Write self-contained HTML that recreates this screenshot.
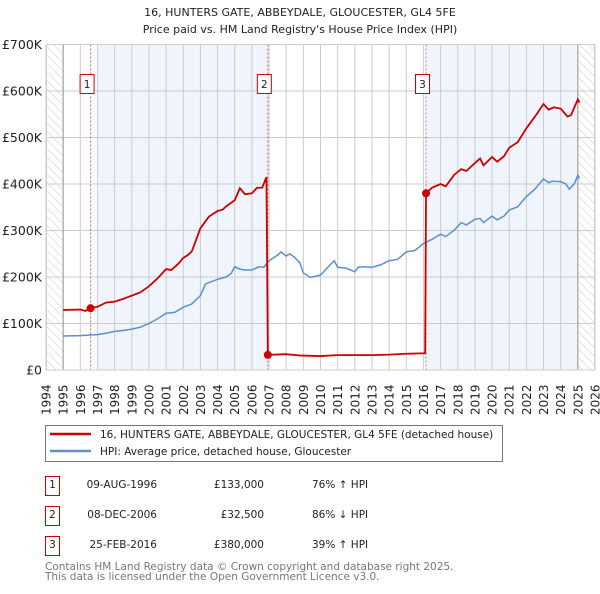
<!DOCTYPE html>
<html><head><meta charset="utf-8"><style>
body{margin:0;background:#fff;width:600px;height:590px;overflow:hidden;font-family:"DejaVu Sans","Liberation Sans",sans-serif;}
svg text{font-family:"DejaVu Sans","Liberation Sans",sans-serif;}
</style></head><body>
<svg id="c" width="600" height="590" xmlns="http://www.w3.org/2000/svg">
<defs><pattern id="hatch" width="6" height="6" patternUnits="userSpaceOnUse" patternTransform="rotate(-45)"><line x1="0" y1="0" x2="0" y2="6" stroke="#ccc" stroke-width="1"/></pattern></defs>
<text x="300" y="16" font-size="11" text-anchor="middle" fill="#222">16, HUNTERS GATE, ABBEYDALE, GLOUCESTER, GL4 5FE</text>
<text x="300" y="33" font-size="11" text-anchor="middle" fill="#222">Price paid vs. HM Land Registry's House Price Index (HPI)</text>
<g id="plot"></g>
<g>
<rect x="45.5" y="425.5" width="457" height="36" fill="#fff" stroke="#777"/>
<line x1="50" y1="434" x2="91" y2="434" stroke="#cc0000" stroke-width="2.5"/>
<text x="100" y="438" font-size="10.5" fill="#222">16, HUNTERS GATE, ABBEYDALE, GLOUCESTER, GL4 5FE (detached house)</text>
<line x1="50" y1="451" x2="91" y2="451" stroke="#5b8fd0" stroke-width="2.5"/>
<text x="100" y="455" font-size="10.5" fill="#222">HPI: Average price, detached house, Gloucester</text>
</g>
<g font-size="10.5" fill="#222">
<rect x="45.5" y="476.5" width="14" height="19" fill="#fff" stroke="#cc0000"/><text x="52.5" y="488" text-anchor="middle">1</text>
<text x="157" y="488" text-anchor="end">09-AUG-1996</text><text x="264" y="488" text-anchor="end">£133,000</text><text x="312" y="488">76% ↑ HPI</text>
<rect x="45.5" y="506.5" width="14" height="19" fill="#fff" stroke="#cc0000"/><text x="52.5" y="518" text-anchor="middle">2</text>
<text x="157" y="518" text-anchor="end">08-DEC-2006</text><text x="264" y="518" text-anchor="end">£32,500</text><text x="312" y="518">86% ↓ HPI</text>
<rect x="45.5" y="536.5" width="14" height="19" fill="#fff" stroke="#cc0000"/><text x="52.5" y="548" text-anchor="middle">3</text>
<text x="157" y="548" text-anchor="end">25-FEB-2016</text><text x="264" y="548" text-anchor="end">£380,000</text><text x="312" y="548">39% ↑ HPI</text>
</g>
<text x="45" y="570" font-size="10.5" fill="#777">Contains HM Land Registry data © Crown copyright and database right 2025.</text>
<text x="45" y="580" font-size="10.5" fill="#777">This data is licensed under the Open Government Licence v3.0.</text>
</svg>
<script>
const yTicks=[0,100,200,300,400,500,600,700];
const yTickLabels=["£0","£100K","£200K","£300K","£400K","£500K","£600K","£700K"];
const years=[1994,1995,1996,1997,1998,1999,2000,2001,2002,2003,2004,2005,2006,2007,2008,2009,2010,2011,2012,2013,2014,2015,2016,2017,2018,2019,2020,2021,2022,2023,2024,2025,2026];
const hpiT=[1995,1996,1997,1997.5,1998,1998.5,1999,1999.5,2000,2000.5,2001,2001.5,2002,2002.5,2003,2003.3,2003.5,2004,2004.5,2004.8,2005,2005.3,2005.6,2006,2006.4,2006.7,2007,2007.5,2007.7,2008,2008.2,2008.5,2008.8,2009,2009.4,2010,2010.5,2010.8,2011,2011.5,2012,2012.2,2012.5,2013,2013.5,2014,2014.5,2015,2015.5,2016,2016.5,2017,2017.3,2017.8,2018.2,2018.5,2019,2019.3,2019.5,2020,2020.3,2020.7,2021,2021.5,2022,2022.5,2023,2023.3,2023.5,2024,2024.3,2024.5,2024.8,2025,2025.1];
const hpiV=[73,74,76,79,83,85,88,92,100,110,122,124,135,142,160,185,188,195,200,208,222,217,215,215,222,221,235,247,254,245,250,242,230,209,199,204,224,235,221,219,211,221,222,221,226,235,238,254,257,272,281,292,287,301,317,312,324,326,317,331,323,331,344,351,373,389,411,403,406,405,400,389,401,419,412];
const priceT=[1995,1996,1996.3,1996.6,1997,1997.5,1998,1998.5,1999,1999.5,2000,2000.5,2001,2001.3,2001.7,2002,2002.3,2002.5,2003,2003.5,2004,2004.3,2004.5,2005,2005.3,2005.6,2006,2006.3,2006.6,2006.85,2006.93,2008,2008.9,2010,2011,2012,2013,2014,2015,2016.1,2016.15,2016.5,2017,2017.3,2017.8,2018.2,2018.5,2019,2019.3,2019.5,2020,2020.3,2020.7,2021,2021.5,2022,2022.5,2023,2023.3,2023.6,2024,2024.4,2024.6,2025,2025.1];
const priceV=[129,130,127,133,136,145,147,153,160,167,180,197,217,215,228,241,248,255,305,330,342,345,352,365,391,378,380,392,392,415,32.5,34,31,30,32,32,32,33,35,36,380,392,400,395,420,432,428,445,455,440,458,448,460,478,490,520,545,572,560,565,562,545,548,582,575];
const saleLabels=["1","2","3"];
const saleT=[1996.6,2006.93,2016.15];
const saleV=[133,32.5,380];
const NS="http://www.w3.org/2000/svg";
const X0=46,X1=595,Y0=370,Y1=44.5;
function sx(t){return X0+(t-1994)/(2026-1994)*(X1-X0);}
function sy(v){return Y0-v/700*(Y0-Y1);}
const g=document.getElementById('plot');
function mk(tag,attrs){const e=document.createElementNS(NS,tag);for(const k in attrs)e.setAttribute(k,attrs[k]);g.appendChild(e);return e;}
let e;
e=mk('rect',{x:sx(1994),y:Y1,width:sx(1995)-sx(1994),height:Y0-Y1,fill:'url(#hatch)'});


e=mk('rect',{x:sx(2025),y:Y1,width:sx(2026)-sx(2025),height:Y0-Y1,fill:'url(#hatch)'});


e=mk('rect',{x:sx(1997),y:Y1,width:sx(2007)-sx(1997),height:Y0-Y1,fill:'#f0f4fc'});


e=mk('rect',{x:sx(2016.15),y:Y1,width:sx(2025)-sx(2016.15),height:Y0-Y1,fill:'#f0f4fc'});


years.forEach(y=>{
 e=mk('line',{x1:sx(y),x2:sx(y),y1:Y1,y2:Y0,stroke:'#ccc','stroke-width':1});
 
 
 const tx=mk('text',{x:0,y:0,'font-size':12,fill:'#222',transform:`translate(${sx(y)+4.5},${Y0+45}) rotate(-90)`});
 tx.textContent=y;
 
 
});
yTicks.forEach((v,i)=>{
 e=mk('line',{x1:X0,x2:X1,y1:sy(v),y2:sy(v),stroke:'#ccc','stroke-width':1});
 
 
 const tx=mk('text',{x:42,y:sy(v)+4.5,'font-size':12.5,fill:'#222','text-anchor':'end'});
 tx.textContent=yTickLabels[i];
 
 
});
e=mk('line',{x1:sx(1995),x2:sx(1995),y1:Y1,y2:Y0,stroke:'#999','stroke-width':1});


e=mk('line',{x1:sx(2025),x2:sx(2025),y1:Y1,y2:Y0,stroke:'#999','stroke-width':1});


saleT.forEach((t,i)=>{
 e=mk('line',{x1:sx(t),x2:sx(t),y1:Y1,y2:Y0,stroke:'#e06060','stroke-width':1,'stroke-dasharray':'2,2'});
 
 
 e=mk('rect',{x:sx(t)-10.5,y:74.5,width:14,height:19,fill:'#fff',stroke:'#cc0000'});
 
 
 const tx=mk('text',{x:sx(t)-3.5,y:88,'font-size':10.5,fill:'#222','text-anchor':'middle'});
 tx.textContent=saleLabels[i];
 
 
});
e=mk('rect',{x:X0+0.5,y:Y1,width:X1-X0-1,height:Y0-Y1,fill:'none',stroke:'#ccc'});


e=mk('polyline',{points:hpiT.map((t,i)=>sx(t)+','+sy(hpiV[i])).join(' '),fill:'none',stroke:'#5b8fd0','stroke-width':1.5});


e=mk('polyline',{points:priceT.map((t,i)=>sx(t)+','+sy(priceV[i])).join(' '),fill:'none',stroke:'#cc0000','stroke-width':1.8});


saleT.forEach((t,i)=>{
 e=mk('circle',{cx:sx(t),cy:sy(saleV[i]),r:4,fill:'#cc0000'});
 
 
});
</script>
</body></html>
